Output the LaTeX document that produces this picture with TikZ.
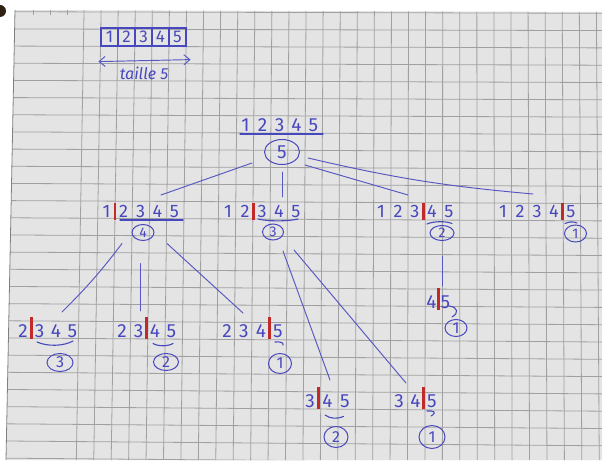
\documentclass[tikz,border=0pt]{standalone}
\usepackage{fontspec}
\setmainfont{Fira Sans}
\usetikzlibrary{shapes.geometric,calc,arrows.meta}

\definecolor{paper}{RGB}{228,228,228}
\definecolor{gridln}{RGB}{160,160,160}
\definecolor{ink}{RGB}{72,72,190}
\definecolor{cut}{RGB}{192,42,40}

% one digit centred in a cell of the given width (pt)
\newcommand\dg[2]{\makebox[#1pt]{#2}}
% red separator bars (short for the first row, taller for the second)
\newcommand\cutA{\makebox[0pt]{\textcolor{cut}{\rule[-2pt]{2.6pt}{17pt}}}}
\newcommand\cutB{\makebox[0pt]{\textcolor{cut}{\rule[-2pt]{2.6pt}{22pt}}}}

\begin{document}
\begin{tikzpicture}[x=1pt,y=-1pt,
  lbl/.style={anchor=base, inner sep=0pt, text=ink, font=\fontsize{18}{18}\selectfont},
  ring/.style={ellipse, draw=ink, line width=1pt, inner sep=0pt, text=ink},
  link/.style={draw=ink!92!white, line width=0.95pt, line cap=round},
  uline/.style={draw=ink, line width=1.1pt, line cap=round},
  cell/.style={draw=ink, line width=1.2pt, minimum width=17pt, minimum height=18pt,
               inner sep=0pt, text=ink, font=\fontsize{17}{17}\selectfont}]
\useasboundingbox (0,0) rectangle (602,462);

% ---- squared paper ----
\fill[white] (0,0) rectangle (602,462);
\fill[paper] (15,10) -- (602,12) -- (602,460) -- (6,460) -- cycle;
\begin{scope}
  \clip (15,10) -- (602,12) -- (602,460) -- (6,460) -- cycle;
  \foreach \k in {0,...,26}
    \draw[gridln, line width=0.8pt] (0,{11.7+17.17*\k}) -- (602,{13.3+17.3*\k});
  \foreach \j in {0,...,30}{
    \pgfmathsetmacro\xt{84+17.08*\j}
    \pgfmathsetmacro\dx{(-7+0.32*\j)/408}
    \draw[gridln, line width=0.8pt] ({\xt-12*\dx},0) -- ({\xt+450*\dx},462);
  }
  \foreach \x in {33,50,67}
    \draw[gridln, line width=0.8pt] (\x,10) -- (\x,15);
\end{scope}
\draw[gridln!80!black, line width=0.8pt] (15,10) -- (6,460);
\fill[black!75!brown] (0,11) ellipse (6 and 6);

% ---- the array of size 5 ----
\node[cell] (a1) at (109.5,37) {1};
\node[cell] (a2) at (126.5,37) {2};
\node[cell] (a3) at (143.5,37) {3};
\node[cell] (a4) at (160.5,37) {4};
\node[cell] (a5) at (177.5,37) {5};
\draw[link, {Straight Barb[length=6pt,width=10pt]}-{Straight Barb[length=6pt,width=10pt]}]
  ($(a1.south west)+(-2,15)$) -- ($(a5.south east)+(4,13)$);
\node[text=ink, font=\fontsize{16}{16}\selectfont\itshape] (sz) at (144,73.5) {taille 5};

% ---- root ----
\node[lbl, font=\fontsize{19}{19}\selectfont] (r0) at (279.5,132)
  {\dg{17}{1}\dg{17}{2}\dg{17}{3}\dg{17}{4}\dg{17}{5}};
\draw[uline] (240,134) -- (323,134);
\node[ring, minimum width=35pt, minimum height=25pt, font=\fontsize{19}{19}\selectfont] (k0) at (282,152) {5};

% ---- first cut ----
\node[lbl] (t1) at (140.5,218) {\dg{17}{1}\cutA\dg{17}{2}\dg{17}{3}\dg{17}{4}\dg{17}{5}};
\node[lbl] (t2) at (262,218) {\dg{17}{1}\dg{17}{2}\cutA\dg{17}{3}\dg{17}{4}\dg{17}{5}};
\node[lbl] (t3) at (415,218) {\dg{17}{1}\dg{17}{2}\dg{17}{3}\cutA\dg{17}{4}\dg{17}{5}};
\node[lbl] (t4) at (537,218) {\dg{17}{1}\dg{17}{2}\dg{17}{3}\dg{17}{4}\cutA\dg{17}{5}};

\draw[uline] (120,220) -- (183,220);
\draw[uline] (258,219) .. controls (268,221.5) and (288,221.5) .. (298,219);
\draw[uline] (427,224) .. controls (434,221) and (446,221) .. (452,223.5);
\draw[uline] (565,223.5) .. controls (569,221.5) and (574,221.5) .. (577,223);

\node[ring, minimum width=22pt, minimum height=16pt, font=\fontsize{14}{14}\selectfont] (k1) at (143,232.5) {4};
\node[ring, minimum width=21pt, minimum height=16pt, font=\fontsize{14}{14}\selectfont] (k2) at (273,232) {3};
\node[ring, minimum width=24pt, minimum height=15pt, font=\fontsize{14}{14}\selectfont] (k3) at (442,233) {2};
\node[ring, minimum width=22pt, minimum height=17pt, font=\fontsize{14}{14}\selectfont] (k4) at (575.5,233.5) {1};

\draw[link] ($(k0)+(-30,11)$) -- ($(t1.base)+(20.5,-23)$);
\draw[link] ($(k0)+(0.5,20)$) -- ($(t2.base)+(20.5,-21)$);
\draw[link] ($(k0)+(23,13)$) -- ($(t3.base)+(-7,-23)$);
\draw[link] ($(k0)+(26,6)$) to[bend right=4] ($(t4.base)+(-4,-24)$);

% ---- second cut ----
\node[lbl, font=\fontsize{19}{19}\selectfont] (u1) at (47.75,337) {\dg{16.5}{2}\cutB\dg{16.5}{3}\dg{16.5}{4}\dg{16.5}{5}};
\node[lbl, font=\fontsize{19}{19}\selectfont] (u2) at (146.75,337) {\dg{16.5}{2}\dg{16.5}{3}\cutB\dg{16.5}{4}\dg{16.5}{5}};
\node[lbl, font=\fontsize{19}{19}\selectfont] (u3) at (252.5,337) {\dg{17}{2}\dg{17}{3}\dg{17}{4}\cutB\dg{17}{5}};
\node[lbl, font=\fontsize{19}{19}\selectfont] (v1) at (438.5,308) {\dg{14}{4}\cutB\dg{14}{5}};
\node[lbl, font=\fontsize{19}{19}\selectfont] (w1) at (327.5,407) {\dg{17.5}{3}\cutB\dg{17.5}{4}\dg{17.5}{5}};
\node[lbl, font=\fontsize{19}{19}\selectfont] (w2) at (415.5,407) {\dg{16.5}{3}\dg{16.5}{4}\cutB\dg{16.5}{5}};

\draw[uline] (37,342) .. controls (47,346.5) and (63,346.5) .. (73,341);
\draw[uline] (153,343.5) .. controls (158,346.5) and (168,346.5) .. (173,343.5);
\draw[uline] (275,342) .. controls (280,341.5) and (284,342.5) .. (283,345);
\draw[uline] (449.5,306) .. controls (458,307.5) and (459,313) .. (452,317);
\draw[uline] (325,415) .. controls (330,419) and (338,419) .. (343.5,416.5);
\draw[uline] (427,411) .. controls (433,410.5) and (438,412) .. (431,416);

\node[ring, minimum width=26pt, minimum height=18pt, font=\fontsize{16}{16}\selectfont] (m1) at (60,362.5) {3};
\node[ring, minimum width=25pt, minimum height=17pt, font=\fontsize{16}{16}\selectfont] (m2) at (166,362) {2};
\node[ring, minimum width=23pt, minimum height=20pt, font=\fontsize{16}{16}\selectfont] (m3) at (280,363.5) {1};
\node[ring, minimum width=22pt, minimum height=17pt, font=\fontsize{16}{16}\selectfont] (n1) at (456,328) {1};
\node[ring, minimum width=24pt, minimum height=21pt, font=\fontsize{16}{16}\selectfont] (p1) at (336,437) {2};
\node[ring, minimum width=26pt, minimum height=23pt, font=\fontsize{16}{16}\selectfont] (p2) at (432,437) {1};

\draw[link] ($(k1)+(-21,11)$) to[bend left=4] ($(u1.base)+(14.25,-25)$);
\draw[link] ($(k1)+(-3,31)$) -- ($(u2.base)+(-6.75,-26)$);
\draw[link] ($(k1)+(24,11)$) -- ($(u3.base)+(-9.5,-24)$);
\draw[link] ($(k2)+(10,19)$) -- ($(w1.base)+(2.5,-27)$);
\draw[link] ($(k2)+(21,18)$) -- ($(w2.base)+(-9.5,-24)$);
\draw[link] ($(k3)+(0,23)$) -- ($(v1.base)+(3.5,-22)$);
\end{tikzpicture}
\end{document}
